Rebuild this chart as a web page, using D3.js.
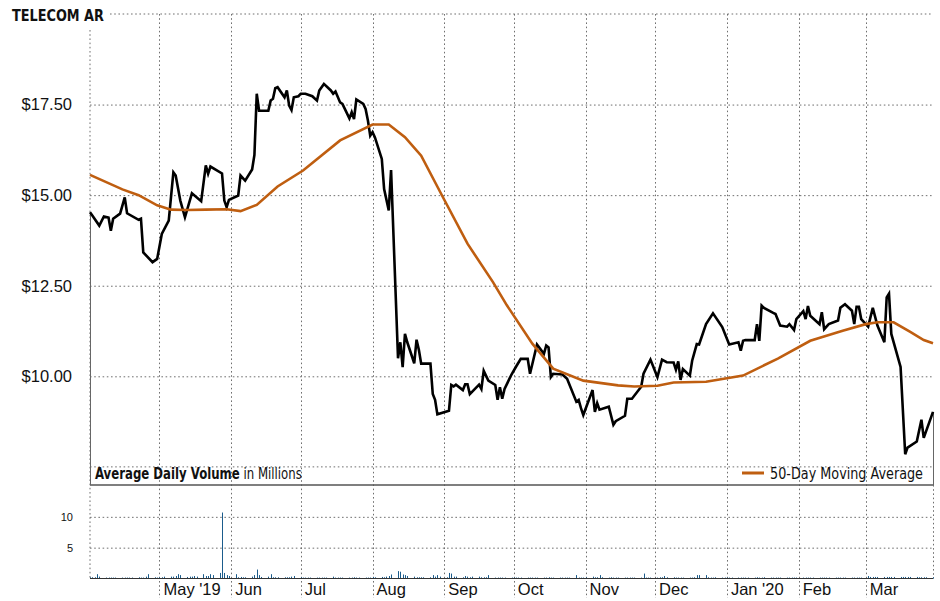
<!DOCTYPE html>
<html>
<head>
<meta charset="utf-8">
<script src="https://cdn.jsdelivr.net/npm/d3@7"></script>
<style>
  body { margin: 0; background: #fff; }
  svg { display: block; }
</style>
</head>
<body>
<div id="vis"></div>
<script>

const chartTitle = "TELECOM AR";

// daily close (turning points)
const closePrices = [
  ["2019-04-01",14.53],["2019-04-02",14.44],["2019-04-05",14.16],["2019-04-07",14.41],["2019-04-09",14.38],
  ["2019-04-10",14.02],["2019-04-11",14.35],["2019-04-14",14.49],["2019-04-16",14.94],["2019-04-17",14.50],
  ["2019-04-22",14.32],["2019-04-23",14.35],["2019-04-24",13.42],["2019-04-28",13.15],["2019-04-30",13.24],
  ["2019-05-02",13.93],["2019-05-05",14.30],["2019-05-07",15.63],["2019-05-08",15.54],["2019-05-10",14.85],
  ["2019-05-12",14.39],["2019-05-15",15.05],["2019-05-19",14.83],["2019-05-21",15.82],["2019-05-22",15.59],
  ["2019-05-23",15.79],["2019-05-28",15.60],["2019-05-29",14.85],["2019-05-30",14.67],["2019-05-31",14.87],
  ["2019-06-04",14.99],["2019-06-05",15.54],["2019-06-07",15.40],["2019-06-10",15.71],["2019-06-11",16.11],
  ["2019-06-12",17.80],["2019-06-13",17.33],["2019-06-17",17.33],["2019-06-18",17.61],["2019-06-19",17.66],
  ["2019-06-20",17.95],["2019-06-21",17.98],["2019-06-24",17.70],["2019-06-25",17.89],["2019-06-26",17.47],
  ["2019-06-27",17.35],["2019-06-28",17.70],["2019-06-30",17.73],
  ["2019-07-01",17.80],["2019-07-03",17.80],["2019-07-06",17.73],["2019-07-08",17.61],["2019-07-09",17.89],
  ["2019-07-11",18.07],["2019-07-14",17.89],["2019-07-15",17.80],["2019-07-16",17.86],["2019-07-18",17.56],
  ["2019-07-19",17.52],["2019-07-22",17.12],["2019-07-23",17.29],["2019-07-24",17.10],["2019-07-25",17.64],
  ["2019-07-28",17.52],["2019-07-29",17.38],["2019-07-30",17.06],["2019-07-31",16.64],
  ["2019-08-01",16.74],["2019-08-02",16.60],["2019-08-05",16.00],["2019-08-06",15.17],["2019-08-08",14.58],
  ["2019-08-09",15.69],["2019-08-12",10.50],["2019-08-13",10.94],["2019-08-14",10.25],["2019-08-15",11.17],
  ["2019-08-16",10.94],["2019-08-19",10.36],["2019-08-20",11.01],["2019-08-21",10.73],["2019-08-22",10.35],
  ["2019-08-26",10.35],["2019-08-27",9.51],["2019-08-28",9.35],["2019-08-29",8.95],
  ["2019-09-03",9.05],["2019-09-04",9.76],["2019-09-05",9.72],["2019-09-06",9.77],["2019-09-09",9.62],
  ["2019-09-10",9.78],["2019-09-11",9.78],["2019-09-12",9.51],["2019-09-16",9.77],["2019-09-17",9.65],
  ["2019-09-18",10.15],["2019-09-20",9.88],["2019-09-23",9.76],["2019-09-24",9.35],["2019-09-25",9.70],
  ["2019-09-26",9.38],["2019-09-27",9.65],["2019-09-30",10.05],
  ["2019-10-02",10.27],["2019-10-04",10.48],["2019-10-07",10.48],["2019-10-08",10.07],["2019-10-11",10.88],
  ["2019-10-14",10.62],["2019-10-15",10.85],["2019-10-16",10.80],["2019-10-17",9.98],["2019-10-18",10.07],
  ["2019-10-22",10.05],["2019-10-24",9.93],["2019-10-28",9.30],["2019-10-29",9.35],["2019-10-30",9.12],
  ["2019-10-31",8.93],
  ["2019-11-04",9.62],["2019-11-05",9.02],["2019-11-06",9.26],["2019-11-07",9.08],["2019-11-11",9.16],
  ["2019-11-13",8.66],["2019-11-14",8.76],["2019-11-18",8.91],["2019-11-19",9.38],["2019-11-21",9.38],
  ["2019-11-25",9.71],["2019-11-26",10.07],["2019-11-29",10.46],
  ["2019-12-02",9.98],["2019-12-04",10.46],["2019-12-06",10.39],["2019-12-09",10.38],["2019-12-10",10.18],
  ["2019-12-11",10.41],["2019-12-12",9.90],["2019-12-13",10.20],["2019-12-16",10.02],["2019-12-17",10.43],
  ["2019-12-19",10.89],["2019-12-20",10.88],["2019-12-23",11.44],["2019-12-26",11.74],["2019-12-30",11.36],
  ["2020-01-02",10.88],["2020-01-06",10.94],["2020-01-07",10.71],["2020-01-08",10.98],["2020-01-09",11.00],
  ["2020-01-13",11.00],["2020-01-14",11.44],["2020-01-15",10.98],["2020-01-16",11.95],["2020-01-17",11.89],
  ["2020-01-21",11.75],["2020-01-22",11.72],["2020-01-24",11.40],["2020-01-27",11.37],["2020-01-28",11.44],
  ["2020-01-30",11.28],["2020-01-31",11.58],
  ["2020-02-03",11.80],["2020-02-04",11.58],["2020-02-05",11.94],["2020-02-06",11.67],["2020-02-10",11.44],
  ["2020-02-11",11.77],["2020-02-12",11.30],["2020-02-14",11.44],["2020-02-18",11.54],["2020-02-19",11.89],
  ["2020-02-21",11.99],["2020-02-24",11.81],["2020-02-25",11.44],["2020-02-26",11.92],["2020-02-27",11.92],
  ["2020-02-28",11.58],
  ["2020-03-02",11.37],["2020-03-04",11.89],["2020-03-06",11.40],["2020-03-09",10.94],["2020-03-10",12.18],
  ["2020-03-11",12.28],["2020-03-12",11.17],["2020-03-16",10.26],["2020-03-18",7.85],["2020-03-19",8.03],
  ["2020-03-23",8.20],["2020-03-25",8.80],["2020-03-26",8.30],["2020-03-30",9.02]
];

const movingAvg = [
  ["2019-04-01",15.56],["2019-04-15",15.16],["2019-04-22",15.00],["2019-04-30",14.72],["2019-05-06",14.60],
  ["2019-05-13",14.59],["2019-05-21",14.60],["2019-05-30",14.61],["2019-06-05",14.56],["2019-06-12",14.73],
  ["2019-06-21",15.24],["2019-07-02",15.68],["2019-07-18",16.51],["2019-08-01",16.95],["2019-08-08",16.95],
  ["2019-08-15",16.60],["2019-08-22",16.09],["2019-08-31",14.99],["2019-09-11",13.66],["2019-09-22",12.60],
  ["2019-09-28",11.96],["2019-10-09",10.90],["2019-10-18",10.21],["2019-10-31",9.88],["2019-11-15",9.75],
  ["2019-11-22",9.72],["2019-12-02",9.74],["2019-12-09",9.83],["2019-12-23",9.85],["2020-01-08",10.02],
  ["2020-01-23",10.49],["2020-02-06",10.98],["2020-02-20",11.26],["2020-03-01",11.44],["2020-03-06",11.49],
  ["2020-03-13",11.49],["2020-03-20",11.23],["2020-03-26",11.00],["2020-03-30",10.91]
];

// daily volume in millions, one value per weekday of each month
const volumeMonths = ["2019-04","2019-05","2019-06","2019-07","2019-08","2019-09",
                      "2019-10","2019-11","2019-12","2020-01","2020-02","2020-03"];
const volApr = [0.2,0.2,0.2,0.7,0.3,0.15,0.15,0.15,0.15,0.15,0.15,0.15,0.15,0.15,0.15,0.2,0.15,0.15,0.3,0.7,0.2,0.15];
const volMay = [0.2,0.2,0.3,0.3,0.3,0.4,0.7,0.55,0.25,0.3,0.3,0.4,0.3,0.7,0.4,0.4,0.7,0.55,0.9,10.7,0.9,0.55,0.4];
const volJun = [0.7,0.2,0.25,0.2,0.2,0.3,0.55,1.45,0.55,0.25,0.3,0.7,0.2,0.2,0.2,0.2,0.2,0.2,0.3,0.4];
const volJul = [0.2,0.15,0.15,0.15,0.15,0.15,0.15,0.15,0.15,0.15,0.3,0.15,0.15,0.15,0.15,0.15,0.15,0.2,0.15,0.15,0.15,0.15,0.15];
const volAug = [0.25,0.2,0.25,0.2,0.3,0.4,0.65,1.2,1.1,0.65,0.55,0.4,0.3,0.2,0.2,0.2,0.2,0.2,0.55,0.3,0.55,0.3];
const volSep = [0.2,0.9,0.8,0.3,0.3,0.2,0.4,0.3,0.2,0.3,0.3,0.2,0.2,0.2,0.55,0.15,0.15,0.15,0.15,0.15,0.15];
const volOct = [0.15,0.15,0.15,0.15,0.15,0.15,0.15,0.15,0.15,0.15,0.15,0.2,0.15,0.15,0.15,0.15,0.15,0.15,0.15,0.55,0.15,0.15,0.15];
const volNov = [0.2,0.3,0.2,0.2,0.55,0.2,0.15,0.2,0.15,0.15,0.15,0.15,0.15,0.15,0.15,0.15,0.15,0.8,0.15,0.15,0.15];
const volDec = [0.15,0.2,0.2,0.4,0.2,0.2,0.15,0.15,0.15,0.15,0.15,0.15,0.2,0.55,0.55,0.55,0.2,0.15,0.15,0.2,0.15,0.15];
const volJan = [0.15,0.15,0.15,0.15,0.15,0.15,0.15,0.15,0.15,0.2,0.15,0.15,0.2,0.15,0.15,0.15,0.15,0.15,0.15,0.15,0.15,0.15,0.15];
const volFeb = [0.15,0.15,0.15,0.15,0.15,0.15,0.15,0.15,0.15,0.15,0.15,0.15,0.15,0.15,0.15,0.15,0.15,0.15,0.15,0.15];
const volMar = [0.4,0.25,0.25,0.25,0.25,0.25,0.25,0.25,0.25,0.25,0.25,0.25,0.25,0.25,0.25,0.25,0.2,0.2,0.2,0.2,0.2];
const volumeValues = [volApr, volMay, volJun, volJul, volAug, volSep, volOct, volNov, volDec, volJan, volFeb, volMar];

const priceTicks = [10, 12.5, 15, 17.5];
const volumeTicks = [5, 10];
const monthTicks = ["2019-05-01","2019-06-01","2019-07-01","2019-08-01","2019-09-01","2019-10-01",
                    "2019-11-01","2019-12-01","2020-01-01","2020-02-01","2020-03-01"];
const monthLabels = ["May '19","Jun","Jul","Aug","Sep","Oct","Nov","Dec","Jan '20","Feb","Mar"];

const W = 940, H = 601;
const left = 90, right = 933;
const priceTop = 14, priceBottom = 485;
const volTop = 486, volBottom = 578.5;
const gridColor = "#6f6f6f";
const gridDash = "1.6,2.6";
const orange = "#bf5e10";
const narrow = "'Liberation Sans Narrow','DejaVu Sans Condensed','Arial Narrow',sans-serif";
const sans = "'Liberation Sans',Arial,Helvetica,sans-serif";

const parseDay = d3.utcParse("%Y-%m-%d");
const parseMonth = d3.utcParse("%Y-%m");

const x = d3.scaleUtc()
    .domain([parseDay("2019-04-01"), parseDay("2020-03-30")])
    .range([left, right]);
const y = d3.scaleLinear().domain([7, 20]).range([priceBottom, priceTop]);
const yv = d3.scaleLinear().domain([0, 15]).range([volBottom, volTop]);

const svg = d3.select("#vis").append("svg")
    .attr("width", W)
    .attr("height", H);

svg.append("rect").attr("width", W).attr("height", H).attr("fill", "#fff");

// squeeze a text horizontally to a target width (the condensed face is wider here)
function squeeze(sel, width, anchorX) {
    const w = sel.node().getBBox().width;
    const k = width / w;
    sel.attr("transform", `translate(${anchorX},0) scale(${k},1) translate(${-anchorX},0)`);
}

// title
const title = svg.append("text")
    .attr("x", 12).attr("y", 21)
    .style("font-family", narrow)
    .style("font-weight", "bold")
    .style("font-size", "16px")
    .attr("fill", "#111")
    .text(chartTitle);
squeeze(title, 92, 12);

const grid = svg.append("g").attr("class", "grid");

// top and unlabelled gridlines
grid.append("line")
    .attr("x1", 110).attr("x2", right)
    .attr("y1", y(20)).attr("y2", y(20));
grid.append("line")
    .attr("x1", left).attr("x2", right)
    .attr("y1", y(7.5)).attr("y2", y(7.5));

// left edge + month gridlines
grid.append("line")
    .attr("x1", left).attr("x2", left)
    .attr("y1", 30).attr("y2", volBottom);
grid.selectAll("line.month")
    .data(monthTicks)
    .enter().append("line")
    .attr("class", "month")
    .attr("x1", d => Math.round(x(parseDay(d))) + 0.5)
    .attr("x2", d => Math.round(x(parseDay(d))) + 0.5)
    .attr("y1", priceTop)
    .attr("y2", 598);
grid.append("line")
    .attr("x1", right + 0.5).attr("x2", right + 0.5)
    .attr("y1", priceBottom).attr("y2", volBottom);

grid.selectAll("line")
    .attr("stroke", gridColor)
    .attr("stroke-width", 1)
    .attr("stroke-dasharray", gridDash);

// price axis
const yAxis = svg.append("g")
    .attr("transform", `translate(${left},0)`)
    .call(d3.axisLeft(y)
        .tickValues(priceTicks)
        .tickSize(-(right - left))
        .tickPadding(18)
        .tickFormat(d => "$" + d3.format(".2f")(d)));
yAxis.select(".domain").remove();
yAxis.selectAll(".tick line")
    .attr("stroke", gridColor)
    .attr("stroke-dasharray", gridDash);
yAxis.selectAll(".tick text")
    .style("font-family", sans)
    .style("font-size", "16.5px")
    .attr("fill", "#111");

// volume axis
const vAxis = svg.append("g")
    .attr("transform", `translate(${left},0)`)
    .call(d3.axisLeft(yv)
        .tickValues(volumeTicks)
        .tickSize(-(right - left))
        .tickPadding(17)
        .tickFormat(d3.format("d")));
vAxis.select(".domain").remove();
vAxis.selectAll(".tick line")
    .attr("stroke", gridColor)
    .attr("stroke-dasharray", gridDash);
vAxis.selectAll(".tick text")
    .style("font-family", sans)
    .style("font-size", "11px")
    .attr("fill", "#111");

// month labels
svg.selectAll("text.month")
    .data(monthTicks)
    .enter().append("text")
    .attr("class", "month")
    .attr("x", d => x(parseDay(d)) + 4)
    .attr("y", 595)
    .style("font-family", sans)
    .style("font-size", "16.5px")
    .attr("fill", "#111")
    .text((d, i) => monthLabels[i]);

// volume bars
const volData = [];
volumeMonths.forEach((m, i) => {
    const start = parseMonth(m);
    const days = d3.utcDays(start, d3.utcMonth.offset(start, 1))
        .filter(d => d.getUTCDay() > 0 && d.getUTCDay() < 6);
    volumeValues[i].forEach((v, j) => {
        if (days[j]) volData.push({ date: days[j], v: v });
    });
});

svg.append("g").selectAll("line")
    .data(volData)
    .enter().append("line")
    .attr("x1", d => Math.round(x(d.date)) + 0.5)
    .attr("x2", d => Math.round(x(d.date)) + 0.5)
    .attr("y1", yv(0))
    .attr("y2", d => yv(d.v))
    .attr("stroke", "#1b5c8c")
    .attr("stroke-width", 1);

// baselines
svg.append("line")
    .attr("x1", left).attr("x2", right)
    .attr("y1", priceBottom).attr("y2", priceBottom)
    .attr("stroke", "#555").attr("stroke-width", 1.5);
svg.append("line")
    .attr("x1", left).attr("x2", right)
    .attr("y1", volBottom).attr("y2", volBottom)
    .attr("stroke", "#333").attr("stroke-width", 1.2);

// legend band
const lg = svg.append("text")
    .attr("x", 95).attr("y", 479)
    .style("font-family", narrow)
    .style("font-size", "15px")
    .attr("fill", "#111");
lg.append("tspan").style("font-weight", "bold").text("Average Daily Volume");
lg.append("tspan").text(" in Millions");
squeeze(lg, 207, 95);

svg.append("line")
    .attr("x1", 742).attr("x2", 764)
    .attr("y1", 473).attr("y2", 473)
    .attr("stroke", orange).attr("stroke-width", 3);
const lr = svg.append("text")
    .attr("x", 923).attr("y", 479)
    .attr("text-anchor", "end")
    .style("font-family", narrow)
    .style("font-size", "15px")
    .attr("fill", "#111")
    .text("50-Day Moving Average");
squeeze(lr, 153, 923);

// price series
const prices = closePrices.map(d => ({ date: parseDay(d[0]), v: d[1] }));
const ma = movingAvg.map(d => ({ date: parseDay(d[0]), v: d[1] }));

const line = d3.line()
    .x(d => x(d.date))
    .y(d => y(d.v));

// area edges under the close line
const first = prices[0], last = prices[prices.length - 1];
[first, last].forEach(p => {
    svg.append("line")
        .attr("x1", Math.round(x(p.date)) + 0.5).attr("x2", Math.round(x(p.date)) + 0.5)
        .attr("y1", y(p.v)).attr("y2", priceBottom)
        .attr("stroke", "#666").attr("stroke-width", 1);
});

svg.append("path")
    .datum(prices)
    .attr("d", line)
    .attr("fill", "none")
    .attr("stroke", "#000")
    .attr("stroke-width", 2.6);

svg.append("path")
    .datum(ma)
    .attr("d", line)
    .attr("fill", "none")
    .attr("stroke", orange)
    .attr("stroke-width", 2.6);

</script>
</body>
</html>
